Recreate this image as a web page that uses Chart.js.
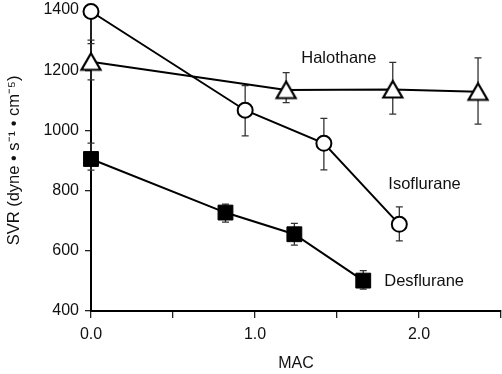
<!DOCTYPE html>
<html><head><meta charset="utf-8">
<script src="https://cdn.jsdelivr.net/npm/chart.js@4"></script>
<style>html,body{margin:0;padding:0;background:#fff;overflow:hidden}#w{width:502px;height:374px;position:relative}canvas{display:block}</style>
</head><body><div id="w"><canvas id="c"></canvas></div>
<script>
// Data (MAC, SVR, error +, error -)
const isoMAC = [0.0, 0.94, 1.42, 1.88];
const isoSVR = [1395, 1067, 957, 688];
const isoErrUp = [0, 82, 83, 58];
const isoErrDown = [95, 85, 88, 55];

const haloMAC = [0.0, 1.19, 1.84, 2.36];
const haloSVR = [1228, 1134, 1136, 1128];
const haloErrUp = [60, 58, 90, 113];
const haloErrDown = [60, 42, 82, 107];

const desMAC = [0.0, 0.82, 1.24, 1.66];
const desSVR = [905, 727, 655, 501];
const desErrUp = [53, 28, 36, 33];
const desErrDown = [37, 32, 36, 28];

const xTickLabels = {0: '0.0', 1: '1.0', 2: '2.0'};
const seriesNames = ['Isoflurane', 'Halothane', 'Desflurane'];
const labelAnchors = [[1.813, 822], [1.282, 1238], [1.788, 498]];

function pts(xs, ys) { return xs.map((x, i) => ({x: x, y: ys[i]})); }

function makeTriangle() {
  const c = document.createElement('canvas');
  c.width = 24; c.height = 21;
  const g = c.getContext('2d');
  g.fillStyle = '#fff'; g.strokeStyle = '#000'; g.lineWidth = 2.2; g.lineJoin = 'miter';
  g.beginPath(); g.moveTo(12, 2); g.lineTo(21.5, 18.5); g.lineTo(2.5, 18.5); g.closePath();
  g.fill(); g.stroke();
  return c;
}
const tri = makeTriangle();

const errs = [[isoErrUp, isoErrDown], [haloErrUp, haloErrDown], [desErrUp, desErrDown]];

const errorBars = {
  id: 'errorBars',
  beforeDatasetsDraw(chart) {
    const ctx = chart.ctx, ys = chart.scales.y;
    ctx.save();
    ctx.strokeStyle = '#333'; ctx.lineWidth = 1.3;
    chart.data.datasets.forEach((ds, di) => {
      const meta = chart.getDatasetMeta(di);
      meta.data.forEach((el, i) => {
        const v = ds.data[i].y;
        const up = errs[di][0][i], dn = errs[di][1][i];
        const x = el.x;
        const yTop = ys.getPixelForValue(v + up), yBot = ys.getPixelForValue(v - dn);
        ctx.beginPath();
        ctx.moveTo(x, yTop); ctx.lineTo(x, yBot);
        if (up > 0) { ctx.moveTo(x - 3.5, yTop); ctx.lineTo(x + 3.5, yTop); }
        if (dn > 0) { ctx.moveTo(x - 3.5, yBot); ctx.lineTo(x + 3.5, yBot); }
        ctx.stroke();
      });
    });
    ctx.restore();
  },
  afterDatasetsDraw(chart) {
    const ctx = chart.ctx, xs = chart.scales.x, ys = chart.scales.y;
    ctx.save();
    ctx.fillStyle = '#111';
    ctx.font = '16.5px "Liberation Sans", Arial, sans-serif';
    ctx.textBaseline = 'middle'; ctx.textAlign = 'left';
    seriesNames.forEach((n, i) => {
      ctx.fillText(n, xs.getPixelForValue(labelAnchors[i][0]), ys.getPixelForValue(labelAnchors[i][1]));
    });
    ctx.restore();
  }
};

const font = {family: '"Liberation Sans", Arial, sans-serif', size: 16};

new Chart(document.getElementById('c'), {
  type: 'scatter',
  data: {
    datasets: [
      {label: 'Isoflurane', data: pts(isoMAC, isoSVR), showLine: true, borderColor: '#000', borderWidth: 2,
       pointStyle: 'circle', pointRadius: 7.5, pointBackgroundColor: '#fff', pointBorderColor: '#000', pointBorderWidth: 2, clip: false},
      {label: 'Halothane', data: pts(haloMAC, haloSVR), showLine: true, borderColor: '#000', borderWidth: 2,
       pointStyle: tri, pointRadius: 10, clip: false},
      {label: 'Desflurane', data: pts(desMAC, desSVR), showLine: true, borderColor: '#000', borderWidth: 2,
       pointStyle: 'rect', pointRadius: 10.5, pointBackgroundColor: '#000', pointBorderColor: '#000', pointBorderWidth: 1, clip: false}
    ]
  },
  options: {
    responsive: true, maintainAspectRatio: false, animation: false,
    layout: {autoPadding: false, padding: {top: 10, right: 1, left: 0, bottom: 0}},
    plugins: {legend: {display: false}, tooltip: {enabled: false}},
    scales: {
      x: {
        type: 'linear', min: 0, max: 2.5,
        afterFit(s) { s.height = 63; s.paddingRight = 0; s.paddingLeft = 0; },
        border: {display: true, color: '#000', width: 2},
        grid: {drawOnChartArea: false, drawTicks: true, tickLength: 7, color: '#222', lineWidth: 1.3},
        ticks: {stepSize: 0.5, autoSkip: false, maxRotation: 0, color: '#111', font: font, padding: 7,
                callback: v => (xTickLabels[v] !== undefined ? xTickLabels[v] : '')},
        title: {display: true, text: 'MAC', color: '#111', font: font, padding: {top: 0, bottom: 1}}
      },
      y: {
        type: 'linear', min: 400, max: 1400,
        afterFit(s) { s.width = 91; s.paddingTop = 0; s.paddingBottom = 0; },
        border: {display: true, color: '#000', width: 2},
        grid: {drawOnChartArea: false, drawTicks: true, tickLength: 6, color: '#222', lineWidth: 1.3},
        ticks: {stepSize: 200, color: '#111', font: font, padding: 6, callback: v => String(v)},
        title: {display: true, text: 'SVR (dyne \u2022 s\u207B\u00B9 \u2022 cm\u207B\u2075)', color: '#111', font: {family: font.family, size: 16.5}, padding: {top: 5, bottom: 0}}
      }
    }
  },
  plugins: [errorBars]
});
</script>
</body></html>
